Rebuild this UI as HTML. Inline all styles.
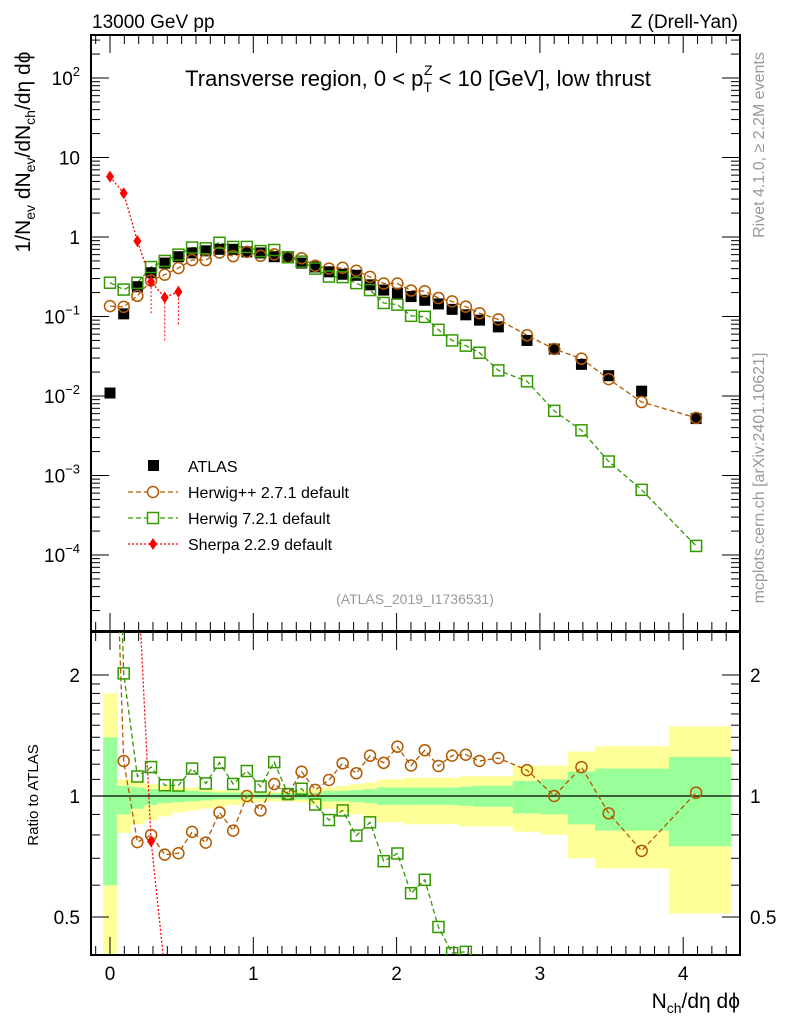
<!DOCTYPE html>
<html><head><meta charset="utf-8"><style>
html,body{margin:0;padding:0;background:#fff;width:786px;height:1024px;overflow:hidden;}
svg{display:block;font-family:"Liberation Sans","DejaVu Sans",sans-serif;}
</style></head><body>
<svg id="chart" width="786" height="1024" viewBox="0 0 786 1024">
<g id="bands"></g>
<g id="grid"></g>
<g id="marks"></g>
<g id="labels">
<text x="92" y="28" font-size="19">13000 GeV pp</text>
<text x="738" y="28" font-size="19" text-anchor="end">Z (Drell-Yan)</text>
<text x="418" y="86" font-size="22" text-anchor="middle">Transverse region, 0 &lt; p<tspan font-size="14" dy="6">T</tspan><tspan font-size="14" dx="-8" dy="-17">Z</tspan><tspan dy="11"> &lt; 10 [GeV], low thrust</tspan></text>
<text x="415" y="604" font-size="14" fill="#999" text-anchor="middle">(ATLAS_2019_I1736531)</text>
<text transform="translate(764,145) rotate(-90)" font-size="16" fill="#999" text-anchor="middle">Rivet 4.1.0, ≥ 2.2M events</text>
<text transform="translate(764,478) rotate(-90)" font-size="16" fill="#999" text-anchor="middle">mcplots.cern.ch [arXiv:2401.10621]</text>
<text transform="translate(30,152) rotate(-90)" font-size="21" text-anchor="middle">1/N<tspan font-size="14" dy="5">ev</tspan><tspan dy="-5"> dN</tspan><tspan font-size="14" dy="5">ev</tspan><tspan dy="-5">/dN</tspan><tspan font-size="14" dy="5">ch</tspan><tspan dy="-5">/dη dϕ</tspan></text>
<text transform="translate(38,795) rotate(-90)" font-size="15" text-anchor="middle">Ratio to ATLAS</text>
<text x="740" y="1008" font-size="21" text-anchor="end">N<tspan font-size="14" dy="5">ch</tspan><tspan dy="-5">/dη dϕ</tspan></text>
</g>
<g id="legend"></g>
</svg>
<script>
const xVals=[0,0.0955,0.191,0.2865,0.382,0.4775,0.573,0.6685,0.764,0.8595,0.955,1.0505,1.146,1.2415,1.337,1.4325,1.528,1.6235,1.719,1.8145,1.91,2.0055,2.101,2.1965,2.292,2.3875,2.483,2.5785,2.71,2.91,3.10,3.29,3.48,3.71,4.09];
const atlasVals=[0.0109,0.108,0.237,0.355,0.47,0.565,0.63,0.67,0.70,0.70,0.65,0.63,0.565,0.55,0.47,0.42,0.365,0.34,0.33,0.25,0.215,0.196,0.178,0.16,0.144,0.123,0.105,0.09,0.074,0.05,0.039,0.025,0.018,0.0115,0.0052];
const herwigppVals=[0.135,0.132,0.182,0.284,0.336,0.407,0.513,0.513,0.637,0.574,0.65,0.58,0.605,0.556,0.54,0.435,0.40,0.41,0.376,0.315,0.26,0.26,0.212,0.208,0.171,0.155,0.133,0.11,0.092,0.058,0.039,0.0295,0.0163,0.0084,0.0053];
const herwig7Vals=[0.266,0.218,0.265,0.419,0.50,0.60,0.737,0.72,0.847,0.75,0.75,0.665,0.686,0.556,0.49,0.40,0.318,0.313,0.263,0.215,0.148,0.141,0.102,0.099,0.068,0.05,0.043,0.035,0.021,0.0153,0.0065,0.0037,0.0015,0.00066,0.00013];
const sherpaX=[0,0.0955,0.191,0.2865,0.382,0.4775];
const sherpaVals=[5.74,3.55,0.89,0.274,0.174,0.205];
const sherpaLow=[5.2,3.1,0.75,0.11,0.05,0.08];
const greenUp=[1.4,1.06,1.05,1.04,1.035,1.03,1.03,1.025,1.02,1.02,1.02,1.015,1.015,1.015,1.02,1.02,1.03,1.03,1.035,1.04,1.05,1.05,1.05,1.05,1.05,1.05,1.055,1.06,1.06,1.09,1.10,1.15,1.17,1.17,1.25];
const greenDown=[0.6,0.9,0.93,0.95,0.96,0.965,0.97,0.975,0.98,0.98,0.985,0.985,0.985,0.985,0.98,0.98,0.97,0.97,0.965,0.96,0.95,0.95,0.95,0.95,0.95,0.95,0.945,0.94,0.94,0.905,0.9,0.85,0.82,0.82,0.75];
const yellowUp=[1.8,1.1,1.09,1.07,1.06,1.05,1.05,1.04,1.035,1.03,1.03,1.025,1.025,1.025,1.03,1.04,1.05,1.06,1.07,1.08,1.1,1.1,1.11,1.11,1.11,1.11,1.12,1.12,1.12,1.19,1.19,1.29,1.33,1.33,1.49];
const yellowDown=[0.3,0.81,0.85,0.87,0.89,0.91,0.92,0.93,0.94,0.95,0.96,0.965,0.97,0.97,0.965,0.95,0.93,0.91,0.9,0.88,0.86,0.86,0.85,0.85,0.85,0.85,0.84,0.84,0.84,0.815,0.8,0.7,0.66,0.66,0.51];
const xTickLabels=["0","1","2","3","4"];
const mainTickExps=[2,1,0,-1,-2,-3,-4];
const ratioTickLabels=["0.5","1","2"];

const NS="http://www.w3.org/2000/svg";
const L=91,R=740,MT=35,MB=631,RT=632,RB=955;
const X=v=>110+v*143.3;
const YM=v=>237-79.5*Math.log10(v);
const YR=r=>796-121*Math.log2(r);
function el(tag,attrs,parent){const e=document.createElementNS(NS,tag);for(const k in attrs)e.setAttribute(k,attrs[k]);parent.appendChild(e);return e;}
const bands=document.getElementById('bands'),grid=document.getElementById('grid'),marks=document.getElementById('marks'),legend=document.getElementById('legend');
const clipR=el('clipPath',{id:'cr'},document.getElementById('chart'));el('rect',{x:L,y:RT,width:R-L,height:RB-RT},clipR);
const clipM=el('clipPath',{id:'cm'},document.getElementById('chart'));el('rect',{x:L,y:MT,width:R-L,height:MB-MT},clipM);
bands.setAttribute('clip-path','url(#cr)');
const edges=[];edges.push(xVals[0]-(xVals[1]-xVals[0])/2);
for(let i=0;i<xVals.length-1;i++)edges.push((xVals[i]+xVals[i+1])/2);
edges.push(4.33);
for(let i=0;i<xVals.length;i++){
 const y=el('rect',{x:X(edges[i]),y:YR(yellowUp[i]),width:X(edges[i+1])-X(edges[i])+0.5,height:YR(yellowDown[i])-YR(yellowUp[i]),fill:'#ffff99'},bands);
 
 
 const g=el('rect',{x:X(edges[i]),y:YR(greenUp[i]),width:X(edges[i+1])-X(edges[i])+0.5,height:YR(greenDown[i])-YR(greenUp[i]),fill:'#99ff99'},bands);
 
 
}
el('rect',{x:L,y:MT,width:R-L,height:MB-MT,fill:'none',stroke:'#000','stroke-width':2},grid);
el('rect',{x:L,y:RT,width:R-L,height:RB-RT,fill:'none',stroke:'#000','stroke-width':2},grid);
el('line',{x1:L,x2:R,y1:YR(1),y2:YR(1),stroke:'#000','stroke-width':1.3},grid);
for(let k=-1;k<=43;k++){const v=k/10;const x=X(v);if(x<=L+1||x>=R-1)continue;const maj=k%10===0;const len=maj?18:9;
 for(const [yt,yb] of [[MT,MB],[RT,RB]]){el('line',{x1:x,x2:x,y1:yt,y2:yt+len,stroke:'#000'},grid);el('line',{x1:x,x2:x,y1:yb,y2:yb-len,stroke:'#000'},grid);}
}
xTickLabels.forEach((t,i)=>{const e=el('text',{x:X(i),y:980,'font-size':19,'text-anchor':'middle'},grid);e.textContent=t;
 
 });
for(let d=-5;d<=2;d++){for(let m=1;m<10;m++){const v=m*Math.pow(10,d);const y=YM(v);if(y<MT+1||y>MB-1)continue;const len=m===1?18:9;
 el('line',{x1:L,x2:L+len,y1:y,y2:y,stroke:'#000'},grid);el('line',{x1:R,x2:R-len,y1:y,y2:y,stroke:'#000'},grid);}}
mainTickExps.forEach(p=>{const y=YM(Math.pow(10,p))+7;const e=el('text',{x:80,y:y,'font-size':19,'text-anchor':'end'},grid);
 if(p===1)e.textContent='10';else if(p===0)e.textContent='1';else{e.textContent='10';const s=el('tspan',{'font-size':13,dy:-9},e);s.textContent=String(p).replace('-','−');}
 
 });
[0.4,0.5,0.6,0.7,0.8,0.9,1,1.1,1.2,1.3,1.4,1.5,1.6,1.7,1.8,1.9,2].forEach(v=>{const y=YR(v);if(y<RT+1||y>RB-1)return;const len=(v===0.5||v===1||v===2)?18:9;
 el('line',{x1:L,x2:L+len,y1:y,y2:y,stroke:'#000'},grid);el('line',{x1:R,x2:R-len,y1:y,y2:y,stroke:'#000'},grid);});
ratioTickLabels.forEach(t=>{const y=YR(parseFloat(t))+7;
 const a=el('text',{x:80,y:y,'font-size':19,'text-anchor':'end'},grid);a.textContent=t;
 
 
 const b=el('text',{x:750,y:y,'font-size':19},grid);b.textContent=t;
 
 });
const gm=el('g',{'clip-path':'url(#cm)'},marks);
const gr=el('g',{'clip-path':'url(#cr)'},marks);
function line(xs,ys,fy,col,dash,parent,name){let d='';xs.forEach((x,i)=>{d+=(i?'L':'M')+X(x).toFixed(1)+','+fy(ys[i]).toFixed(1);});
 const p=el('path',{d:d,fill:'none',stroke:col,'stroke-width':1.3,'stroke-dasharray':dash},parent);
 
 }
function circle(x,y,parent){const c=el('circle',{cx:x,cy:y,r:5.5,fill:'none',stroke:'#b35900','stroke-width':1.5},parent);
 
 }
function square(x,y,parent){const s=el('rect',{x:x-5.5,y:y-5.5,width:11,height:11,fill:'none',stroke:'#339900','stroke-width':1.5},parent);
 
 }
function diamond(x,y,parent){const s=el('path',{d:`M${x},${y-6}L${x+4},${y}L${x},${y+6}L${x-4},${y}Z`,fill:'#ff0000'},parent);
 
 }
line(xVals,herwigppVals,YM,'#b35900','5,3',gm,'herwigpp-line');
line(xVals,herwig7Vals,YM,'#339900','5,3',gm,'herwig7-line');
line(sherpaX,sherpaVals,YM,'#ff0000','2,2',gm,'sherpa-line');
sherpaX.forEach((x,i)=>{el('line',{x1:X(x),x2:X(x),y1:YM(sherpaLow[i]),y2:YM(sherpaVals[i]*1.05),stroke:'#ff0000','stroke-dasharray':'2,2'},gm);});
xVals.forEach((x,i)=>{const s=el('rect',{x:X(x)-5.5,y:YM(atlasVals[i])-5.5,width:11,height:11,fill:'#000'},gm);
 
 });
xVals.forEach((x,i)=>circle(X(x),YM(herwigppVals[i]),gm));
xVals.forEach((x,i)=>square(X(x),YM(herwig7Vals[i]),gm));
sherpaX.forEach((x,i)=>diamond(X(x),YM(sherpaVals[i]),gm));
const rpp=herwigppVals.map((v,i)=>v/atlasVals[i]);
const r7=herwig7Vals.map((v,i)=>v/atlasVals[i]);
const rs=sherpaVals.map((v,i)=>v/atlasVals[i]);
line(xVals,rpp,YR,'#b35900','5,3',gr,'herwigpp-ratio-line');
line(xVals,r7,YR,'#339900','5,3',gr,'herwig7-ratio-line');
line(sherpaX,rs,YR,'#ff0000','2,2',gr,'sherpa-ratio-line');
xVals.forEach((x,i)=>circle(X(x),YR(rpp[i]),gr));
xVals.forEach((x,i)=>square(X(x),YR(r7[i]),gr));
sherpaX.forEach((x,i)=>diamond(X(x),YR(rs[i]),gr));
const leg=[['ATLAS','atlas'],['Herwig++ 2.7.1 default','hpp'],['Herwig 7.2.1 default','h7'],['Sherpa 2.2.9 default','sh']];
leg.forEach((l,i)=>{const y=466+i*26;const g=el('g',{},legend);
 
 
 if(l[1]==='atlas')el('rect',{x:148,y:y-6,width:11,height:11,fill:'#000'},g);
 else if(l[1]==='hpp'){el('line',{x1:128,x2:178,y1:y,y2:y,stroke:'#b35900','stroke-dasharray':'5,3','stroke-width':1.3},g);el('circle',{cx:153,cy:y,r:5.5,fill:'#fff',stroke:'#b35900','stroke-width':1.5},g);}
 else if(l[1]==='h7'){el('line',{x1:128,x2:178,y1:y,y2:y,stroke:'#339900','stroke-dasharray':'5,3','stroke-width':1.3},g);el('rect',{x:147.5,y:y-5.5,width:11,height:11,fill:'#fff',stroke:'#339900','stroke-width':1.5},g);}
 else{el('line',{x1:128,x2:178,y1:y,y2:y,stroke:'#ff0000','stroke-dasharray':'2,2','stroke-width':1.3},g);el('path',{d:`M153,${y-6}L157,${y}L153,${y+6}L149,${y}Z`,fill:'#ff0000'},g);}
 const t=el('text',{x:188,y:y+6,'font-size':16},g);t.textContent=l[0];});
</script>
</body></html>
